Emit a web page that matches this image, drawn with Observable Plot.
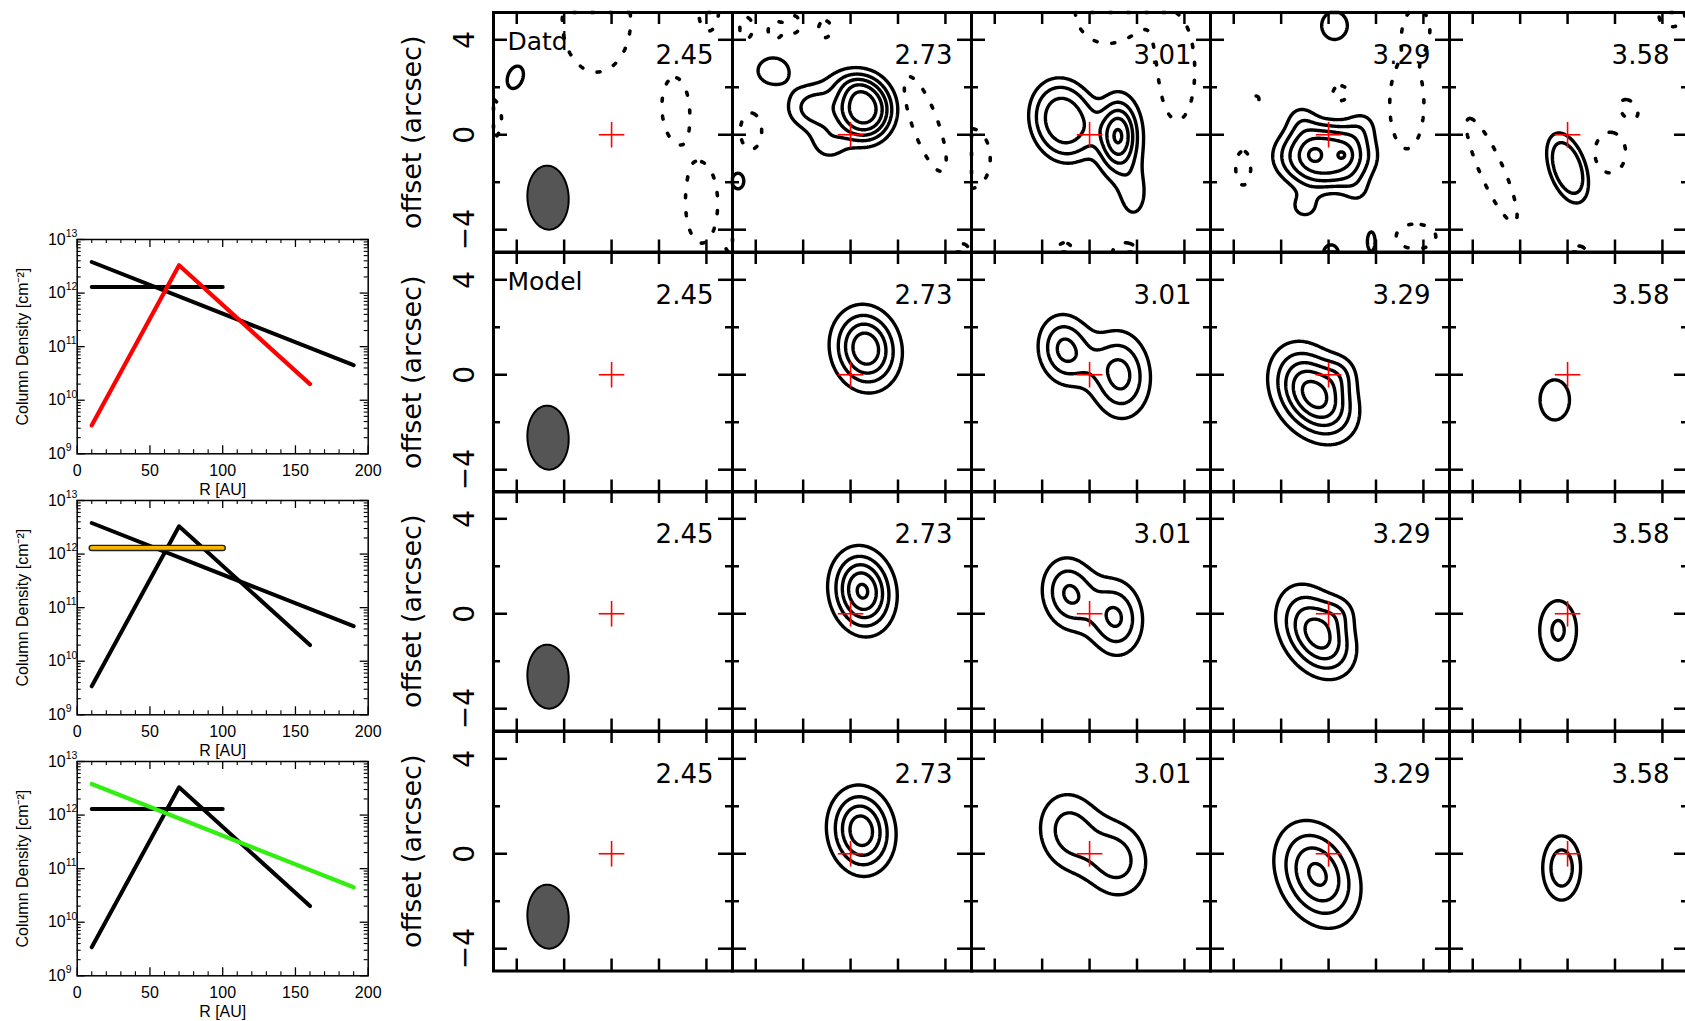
<!DOCTYPE html>
<html><head><meta charset="utf-8">
<script src="https://cdn.jsdelivr.net/npm/d3@7"></script>
<script src="https://cdn.jsdelivr.net/npm/@observablehq/plot@0.6"></script>
<style>
html,body{margin:0;padding:0;background:#fff;overflow:hidden;}
#root{position:relative;width:1685px;height:1021px;overflow:hidden;background:#fff;}
svg{overflow:visible;}
</style></head><body><div id="root"></div>
<script>
// ---------------- DATA ----------------
// velocity channels (km/s) shown in the columns
const channels = ["2.45", "2.73", "3.01", "3.29", "3.58"];
const rowLabels = ["Datd", "Model", "", ""];
// contour levels (in units of the lowest positive level); dotted = negative
const contourLevels = [1, 2, 3, 4, 5];
const negativeLevels = [1];
// offset axis ticks (arcsec)
const offsetTicks = [-4, -2, 0, 2, 4];
const offsetMajorTicks = [-4, 0, 4];
const offsetMinorTicks = [-2, 2];
const offsetLabelTicks = [4, 0, -4];
const offsetDomainX = [-4.98, 5.1];
const offsetDomainY = [-4.94, 5.15];
// synthesized beam and source position
const beam = {x: -2.68, y: -2.65, a: 0.87, b: 1.35, angle: 3};
const source = [{x: 0, y: 0}];
const crossArm = 0.54;

// emission components per channel: [x, y, sx, sy, rotation(deg), amplitude, shape]
// (negative amplitude = negative / dotted contours)
const dataRow = [
  [[-4.06, 2.42, 0.41, 0.63, -20, 1.35],
   [-0.64, 4.8, 1.6, 2.4, 0, -1.5], [2.7, 1.1, 0.56, 1.28, 0, -1.5], [3.8, -2.9, 0.75, 1.85, 0, -1.5],
   [4.1, 5.2, 0.45, 0.9, 0, -1.5], [-5.1, 0.65, 0.5, 0.95, 0, -1.5], [5.2, -4.7, 0.3, 0.3, 0, -1.5]],
  [[0.6, 1.05, 0.8, 0.9, 0, 5.5, 1.3], [-1.5, 1.15, 0.8, 0.65, 0, 2.6], [-0.9, -0.3, 0.6, 0.6, 0, 1.5],
   [-0.1, 2.2, 0.7, 0.5, 0, 1.4], [-3.27, 2.7, 0.65, 0.55, 0, 1.6], [-4.75, -1.95, 0.3, 0.4, 0, 1.4],
   [3.15, 0.45, 0.6, 2.35, 20, -1.5], [-3.2, 4.4, 0.3, 0.4, 0, -1.5], [-2.4, 4.65, 0.3, 0.4, 0, -1.5],
   [-1.08, 4.45, 0.3, 0.4, 0, -1.5], [-4.2, 0.15, 0.5, 0.85, 0, -1.5], [4.7, -4.9, 0.3, 0.3, 0, -1.5],
   [-4.4, 4.5, 0.3, 0.5, 0, -1.5]],
  [[-1.1, 0.6, 0.95, 1.2, 15, 3.5, 1.6], [1.2, -0.05, 0.59, 1.03, 0, 5.15], [1.85, -2.5, 0.5, 0.9, 0, 1.4],
   [0.75, 5.2, 1.5, 1.5, 0, -1.5], [3.7, 2.6, 0.8, 2.2, 0, -1.5], [-5.0, -1.0, 0.9, 1.4, 0, -1.5],
   [-1.05, -5.0, 0.4, 0.5, 0, -1.5], [1.5, -5.0, 0.6, 0.5, 0, -1.5]],
  [[-0.15, -0.9, 1.37, 0.95, 0, 4.55, 1.6], [-0.62, -0.85, 0.3, 0.3, 0, 0.8], [0.61, -0.85, 0.25, 0.25, 0, 0.75],
   [-1.15, 0.65, 0.5, 0.5, 0, 1.3], [1.4, 0.4, 0.5, 0.5, 0, 1.2], [-1.0, -3.0, 0.55, 0.5, 0, 1.3],
   [1.2, -2.4, 0.5, 0.5, 0, 1.0], [0.25, 4.6, 0.6, 0.65, 0, 1.5], [0.1, -5.0, 0.35, 0.4, 0, 1.5],
   [1.8, -4.5, 0.18, 0.45, 0, 1.5],
   [3.3, 1.3, 0.8, 2.1, 0, -1.5], [3.75, 4.5, 0.45, 0.7, 0, -1.5], [0.5, 1.75, 0.35, 0.35, 0, -1.5],
   [-3.6, -1.4, 0.35, 0.8, 0, -1.5], [3.7, -4.3, 0.9, 0.55, 0, -1.5], [-3.07, 1.5, 0.15, 0.15, 0, -1.5]],
  [[0.0, -1.4, 0.55, 1.1, 19, 2.6, 2],
   [-3.2, -1.5, 0.55, 2.65, 24, -1.5], [1.8, -0.75, 0.72, 0.95, 0, -1.5], [2.6, 1.1, 0.3, 0.45, 40, -1.5],
   [4.4, 5.0, 0.6, 0.5, 0, -1.5], [0.45, -5.0, 0.4, 0.35, 0, -1.5]]
];
const modelRow1 = [
  [],
  [[0.64, 1.1, 0.86, 1.06, 12, 4.85]],
  [[-1.03, 1.06, 0.73, 0.96, 10, 3.3], [1.28, 0.0, 0.82, 1.18, 5, 3.4], [0.1, 0.5, 0.5, 0.5, 0, 0.3]],
  [[-0.9, -0.6, 0.9, 1.2, 25, 4.5], [0.1, -1.4, 0.8, 1.0, 25, 2.0], [0.5, 0.05, 0.5, 0.55, 0, 1.2]],
  [[-0.54, -1.06, 0.8, 1.09, 0, 1.35]]
];
const modelRow2 = [
  [],
  [[0.5, 0.95, 0.8, 1.07, 10, 5.19]],
  [[-0.85, 0.85, 0.75, 1.0, 10, 3.12], [1.1, -0.17, 0.75, 1.05, 5, 3.12]],
  [[-0.75, -0.6, 0.85, 1.2, 25, 3.6], [0.1, -1.35, 0.75, 0.95, 25, 1.6], [0.45, 0.05, 0.5, 0.5, 0, 1.0]],
  [[-0.4, -0.7, 0.62, 1.0, 0, 2.18]]
];
const modelRow3 = [
  [],
  [[0.45, 0.97, 0.83, 1.1, 8, 4.7]],
  [[-0.85, 0.95, 0.9, 1.15, 10, 2.45], [1.15, -0.25, 0.9, 1.1, 10, 2.45]],
  [[-0.47, -0.87, 1.0, 1.4, 25, 4.24]],
  [[-0.25, -0.6, 0.56, 0.95, 0, 2.76]]
];

// column-density profiles (left plots)
const profileSlopeR = [10, 190];
const profileSlopeN = [3.8e12, 4.5e10];
const profileFlatR = [10, 100];
const profileFlatN = [1.3e12, 1.3e12];
const profileRingR = [10, 70, 160];
const profileRingN = [3.4e9, 3.3e12, 2.0e10];
const highlighted = ["ring", "flat", "slope"];
const highlightColors = ["#ff0000", "#f7b500", "#33ee11"];
const radiusTicks = [0, 50, 100, 150, 200];
const decadeTicks = [1e9, 1e10, 1e11, 1e12, 1e13];
const decadeExponents = ["9", "10", "11", "12", "13"];

// ---------------- LAYOUT ----------------
const root = document.getElementById("root");
function place(svg, left, top) {
  svg.style.position = "absolute";
  svg.style.left = left + "px";
  svg.style.top = top + "px";
  root.appendChild(svg);
}
const panelLeft0 = 493, panelTop0 = 12, panelW = 239, panelH = 239.5;
const panelFont = "DejaVu Sans";

function field(comps) {
  const cs = comps.map(([x0, y0, sx, sy, rot, amp, p = 1]) => ({
    x0, y0, sx, sy, c: Math.cos(rot * Math.PI / 180), s: Math.sin(rot * Math.PI / 180), amp: Math.abs(amp), p}));
  return (x, y) => {
    let v = 0;
    for (const k of cs) {
      const dx = x - k.x0, dy = y - k.y0;
      const u = (dx * k.c + dy * k.s) / k.sx, w = (-dx * k.s + dy * k.c) / k.sy;
      const q = (u * u + w * w) / 2;
      v += k.amp * Math.exp(-(k.p === 1 ? q : Math.pow(q, k.p)));
    }
    return v;
  };
}

const beamOutline = d3.range(0, 361, 4).map(t => {
  const a = t * Math.PI / 180, r = beam.angle * Math.PI / 180;
  const ex = beam.a * Math.cos(a), ey = beam.b * Math.sin(a);
  return {x: beam.x + ex * Math.cos(r) - ey * Math.sin(r), y: beam.y + ex * Math.sin(r) + ey * Math.cos(r)};
});

function panel(r, c, comps) {
  const [X0, X1] = offsetDomainX, [Y0, Y1] = offsetDomainY;
  const pos = comps.filter(d => d[5] > 0), neg = comps.filter(d => d[5] < 0);
  const marks = [];
  if (pos.length) marks.push(Plot.contour({value: field(pos), x1: X0, x2: X1, y1: Y0, y2: Y1,
    thresholds: contourLevels, pixelSize: 1, fill: "none", stroke: "black", strokeWidth: 3.4, strokeLinejoin: "round"}));
  if (neg.length) marks.push(Plot.contour({value: field(neg), x1: X0, x2: X1, y1: Y0, y2: Y1,
    thresholds: negativeLevels, pixelSize: 1, fill: "none", stroke: "black", strokeWidth: 3.6,
    strokeDasharray: "3,15", strokeLinecap: "round"}));
  if (c === 0) marks.push(Plot.line(beamOutline, {x: "x", y: "y", fill: "#555555", stroke: "black", strokeWidth: 2}));
  marks.push(
    Plot.link(source, {x1: d => d.x - crossArm, x2: d => d.x + crossArm, y1: "y", y2: "y", stroke: "red", strokeWidth: 1.6}),
    Plot.link(source, {x1: "x", x2: "x", y1: d => d.y - crossArm, y2: d => d.y + crossArm, stroke: "red", strokeWidth: 1.6}),
    Plot.frame({stroke: "black", strokeWidth: 3}),
    Plot.tickX(offsetTicks, {x: d => d, insetBottom: panelH - 12, stroke: "black", strokeWidth: 2.5}),
    Plot.tickX(offsetTicks, {x: d => d, insetTop: panelH - 12, stroke: "black", strokeWidth: 2.5}),
    Plot.tickY(offsetMajorTicks, {y: d => d, insetRight: panelW - 14, stroke: "black", strokeWidth: 2.5}),
    Plot.tickY(offsetMajorTicks, {y: d => d, insetLeft: panelW - 14, stroke: "black", strokeWidth: 2.5}),
    Plot.tickY(offsetMinorTicks, {y: d => d, insetRight: panelW - 7, stroke: "black", strokeWidth: 2.5}),
    Plot.tickY(offsetMinorTicks, {y: d => d, insetLeft: panelW - 7, stroke: "black", strokeWidth: 2.5}),
    Plot.text([channels[c]], {frameAnchor: "top-right", text: d => d, dx: -19, dy: 51, lineAnchor: "bottom",
      textAnchor: "end", fontSize: 26, fontFamily: panelFont, fill: "black"})
  );
  if (c === 0 && rowLabels[r]) marks.push(Plot.text([rowLabels[r]], {frameAnchor: "top-left", text: d => d,
    dx: 14, dy: 37, lineAnchor: "bottom", textAnchor: "start", fontSize: 25, fontFamily: panelFont, fill: "black"}));
  if (c === 0) marks.push(
    Plot.text(offsetLabelTicks, {frameAnchor: "left", y: d => d, text: d => d < 0 ? "\u2212" + (-d) : String(d),
      rotate: -90, dx: -28, fontSize: 28, fontFamily: panelFont, textAnchor: "middle", lineAnchor: "middle", fill: "black"}),
    Plot.text(["offset (arcsec)"], {frameAnchor: "left", text: d => d, rotate: -90, dx: -81, fontSize: 27,
      fontFamily: panelFont, textAnchor: "middle", lineAnchor: "middle", fill: "black"})
  );
  return Plot.plot({
    width: panelW, height: panelH, margin: 0,
    x: {domain: offsetDomainX, axis: null},
    y: {domain: offsetDomainY, axis: null},
    style: {background: "transparent", overflow: "visible"},
    marks
  });
}

const rows = [dataRow, modelRow1, modelRow2, modelRow3];
rows.forEach((row, r) => row.forEach((comps, c) => {
  place(panel(r, c, comps), panelLeft0 + panelW * c, panelTop0 + panelH * r);
}));

// ---------------- PROFILE PLOTS ----------------
const profFrameTops = [239, 499.5, 760.7];
const profLeft = 76.7, profFrameW = 291, profFrameH = 214.3, profMT = 10, profMB = 60, profW = 380;
const radiusMinor = d3.range(10, 200, 10).filter(v => v % 50 !== 0);
const decadeMinor = decadeTicks.slice(0, -1).flatMap(d => d3.range(2, 10).map(m => m * d));

function profilePlot(i) {
  const lines = {
    slope: profileSlopeR.map((r, j) => ({r, n: profileSlopeN[j]})),
    flat: profileFlatR.map((r, j) => ({r, n: profileFlatN[j]})),
    ring: profileRingR.map((r, j) => ({r, n: profileRingN[j]}))
  };
  const marks = [];
  for (const key of ["slope", "flat", "ring"]) {
    if (key === highlighted[i]) continue;
    marks.push(Plot.line(lines[key], {x: "r", y: "n", stroke: "black", strokeWidth: 4}));
  }
  const hk = highlighted[i];
  if (hk === "flat") marks.push(Plot.line(lines[hk], {x: "r", y: "n", stroke: "#222", strokeWidth: 6.5}));
  marks.push(Plot.line(lines[hk], {x: "r", y: "n", stroke: highlightColors[i], strokeWidth: hk === "flat" ? 3.8 : 4.2}));
  const fh = profFrameH, fw = profFrameW;
  marks.push(
    Plot.frame({stroke: "black", strokeWidth: 1.5}),
    Plot.tickX(radiusTicks, {x: d => d, insetTop: fh - 8, stroke: "black", strokeWidth: 1.3}),
    Plot.tickX(radiusTicks, {x: d => d, insetBottom: fh - 8, stroke: "black", strokeWidth: 1.3}),
    Plot.tickX(radiusMinor, {x: d => d, insetTop: fh - 4, stroke: "black", strokeWidth: 1.1}),
    Plot.tickX(radiusMinor, {x: d => d, insetBottom: fh - 4, stroke: "black", strokeWidth: 1.1}),
    Plot.tickY(decadeTicks, {y: d => d, insetRight: fw - 8, stroke: "black", strokeWidth: 1.3}),
    Plot.tickY(decadeTicks, {y: d => d, insetLeft: fw - 8, stroke: "black", strokeWidth: 1.3}),
    Plot.tickY(decadeMinor, {y: d => d, insetRight: fw - 4, stroke: "black", strokeWidth: 1.1}),
    Plot.tickY(decadeMinor, {y: d => d, insetLeft: fw - 4, stroke: "black", strokeWidth: 1.1}),
    Plot.text(radiusTicks, {x: d => d, frameAnchor: "bottom", text: d => String(d), dy: 22, lineAnchor: "bottom",
      fontSize: 16, fill: "black"}),
    Plot.text(["R [AU]"], {frameAnchor: "bottom", text: d => d, dy: 41, lineAnchor: "bottom", fontSize: 16, fill: "black"}),
    Plot.text(decadeTicks, {y: d => d, frameAnchor: "left", text: () => "10", dx: -11.5, textAnchor: "end",
      lineAnchor: "middle", fontSize: 16, fill: "black"}),
    Plot.text(decadeTicks, {y: d => d, frameAnchor: "left", text: (d, j) => decadeExponents[j], dx: -11.5, dy: -6,
      textAnchor: "start", lineAnchor: "middle", fontSize: 10.5, fill: "black"}),
    Plot.text(["Column Density [cm\u207B\u00B2]"], {frameAnchor: "left", text: d => d, rotate: -90, dx: -54,
      textAnchor: "middle", lineAnchor: "middle", fontSize: 16, fill: "black"})
  );
  return Plot.plot({
    width: profW, height: fh + profMT + profMB,
    marginLeft: profLeft, marginRight: profW - profLeft - fw, marginTop: profMT, marginBottom: profMB,
    x: {domain: [0, 200], axis: null},
    y: {type: "log", domain: [1e9, 1e13], axis: null},
    style: {background: "transparent", overflow: "visible", fontFamily: "Liberation Sans, Arial, sans-serif"},
    marks
  });
}
profFrameTops.forEach((t, i) => place(profilePlot(i), 0, t - profMT));
</script>
</body></html>
